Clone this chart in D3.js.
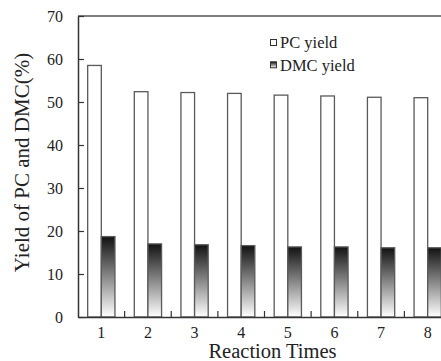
<!DOCTYPE html>
<html>
<head>
<meta charset="utf-8">
<script src="https://cdn.jsdelivr.net/npm/d3@7"></script>
<style>
  html, body { margin: 0; padding: 0; background: #fff; }
  svg { display: block; }
  svg text { font-family: "Liberation Serif", "DejaVu Serif", serif !important; fill: #222; }
</style>
</head>
<body>
<div id="chart"></div>
<script>
const categories = ["1", "2", "3", "4", "5", "6", "7", "8"];
const pcYield = [58.5, 52.4, 52.2, 52.0, 51.6, 51.4, 51.1, 51.0];
const dmcYield = [18.7, 17.0, 16.8, 16.6, 16.3, 16.3, 16.1, 16.1];
const seriesNames = ["PC yield", "DMC yield"];
const yTicks = [0, 10, 20, 30, 40, 50, 60, 70];

const W = 441, H = 361;
const mLeft = 78, mTop = 16, mBottom = 317, mRight = 451;
const FONT = "'Liberation Serif', 'DejaVu Serif', serif";

const svg = d3.select("#chart").append("svg")
  .attr("width", W).attr("height", H)
  .attr("font-family", FONT);

const defs = svg.append("defs");
const grad = defs.append("linearGradient")
  .attr("id", "dmcGrad").attr("x1", 0).attr("y1", 0).attr("x2", 0).attr("y2", 1);
grad.append("stop").attr("offset", "0%").attr("stop-color", "#121212");
grad.append("stop").attr("offset", "100%").attr("stop-color", "#ffffff");

const x = d3.scaleBand().domain(categories).range([mLeft, mRight]).paddingInner(0).paddingOuter(0);
const xSub = d3.scaleBand().domain(seriesNames).range([0, x.bandwidth()]).paddingInner(0).paddingOuter(0.71);
const y = d3.scaleLinear().domain([0, 70]).range([mBottom, mTop]);

const data = categories.map((c, i) => ({ c, vals: [pcYield[i], dmcYield[i]] }));

const groups = svg.append("g").selectAll("g").data(data).join("g")
  .attr("transform", d => `translate(${x(d.c)},0)`);

groups.selectAll("rect").data(d => d.vals.map((v, j) => ({ v, s: seriesNames[j] })))
  .join("rect")
  .attr("x", d => xSub(d.s))
  .attr("y", d => y(d.v))
  .attr("width", xSub.bandwidth())
  .attr("height", d => y(0) - y(d.v))
  .attr("fill", d => d.s === "PC yield" ? "#fff" : "url(#dmcGrad)")
  .attr("stroke", "#5a5a5a")
  .attr("stroke-width", 1.3);

// frame top line
svg.append("line").attr("x1", mLeft).attr("x2", W + 5).attr("y1", mTop).attr("y2", mTop)
  .attr("stroke", "#555").attr("stroke-width", 1.6);

// y axis
const yAxis = svg.append("g").attr("transform", `translate(${mLeft},0)`)
  .call(d3.axisLeft(y).tickValues(yTicks).tickSizeInner(-6).tickSizeOuter(0).tickPadding(15).tickFormat(d3.format("d")));
yAxis.attr("font-family", FONT);
yAxis.select(".domain").attr("stroke", "#333").attr("stroke-width", 1.5);
yAxis.selectAll(".tick line").attr("stroke", "#333").attr("stroke-width", 1.2);
yAxis.selectAll("text").attr("font-size", 16).attr("fill", "#222").style("font-family", FONT);

// x axis
const xAxis = svg.append("g").attr("transform", `translate(0,${mBottom})`)
  .call(d3.axisBottom(x).tickSize(0).tickPadding(10));
xAxis.attr("font-family", FONT);
xAxis.select(".domain").attr("stroke", "#333").attr("stroke-width", 1.5);
xAxis.selectAll("text").attr("font-size", 16).attr("fill", "#222").style("font-family", FONT);

// minor ticks between categories (inward)
svg.append("g").selectAll("line").data(categories.slice(1)).join("line")
  .attr("x1", d => x(d)).attr("x2", d => x(d))
  .attr("y1", mBottom).attr("y2", mBottom - 6)
  .attr("stroke", "#333").attr("stroke-width", 1.2);

// axis titles
svg.append("text").attr("x", 272.5).attr("y", 358).attr("text-anchor", "middle")
  .attr("font-size", 20.5).style("font-family", FONT).text("Reaction Times");
svg.append("text").attr("transform", "translate(29,162.5) rotate(-90)").attr("text-anchor", "middle")
  .attr("font-size", 21).style("font-family", FONT).text("Yield of PC and DMC(%)");

// legend
const legend = svg.append("g");
seriesNames.forEach((name, i) => {
  const ly = 39.5 + i * 22.3;
  legend.append("rect").attr("x", 270.5).attr("y", ly).attr("width", 6).attr("height", 6)
    .attr("fill", i === 0 ? "#fff" : "url(#dmcGrad)")
    .attr("stroke", "#333").attr("stroke-width", 1);
  legend.append("text").attr("x", 280).attr("y", ly + 8.7)
    .attr("font-size", 16.5).style("font-family", FONT).text(name);
});
</script>
</body>
</html>
